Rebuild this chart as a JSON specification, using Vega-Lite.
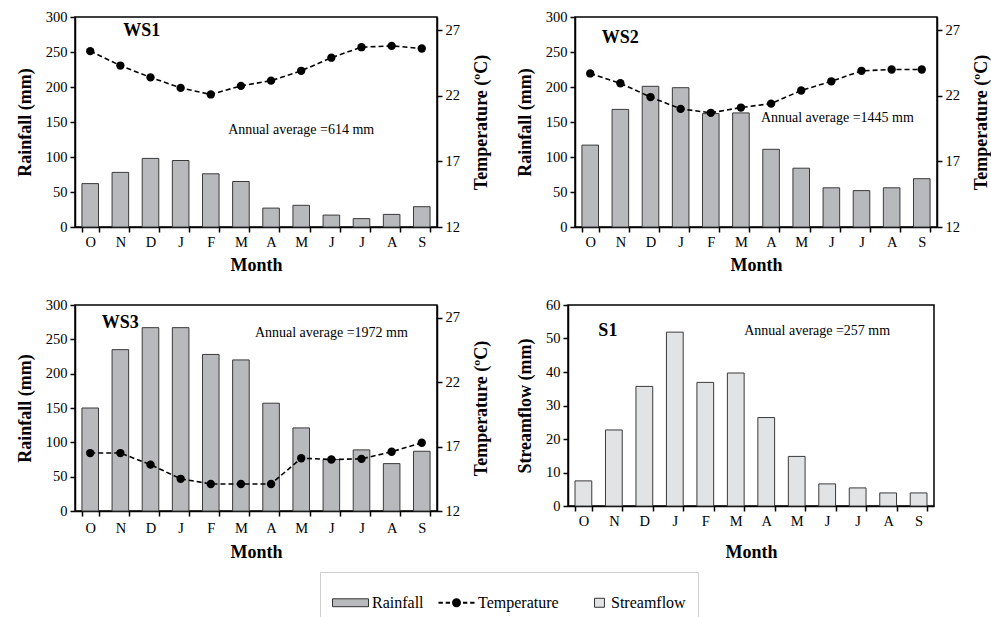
{
  "$schema": "https://vega.github.io/schema/vega-lite/v6.json",
  "background": "white",
  "padding": {"left": 15, "top": 8, "right": 0, "bottom": 0},
  "datasets": {
    "ws1": [
      {"month": "Oct", "rain": 62, "temp": 25.4, "series": "Rainfall"},
      {"month": "Nov", "rain": 78, "temp": 24.3, "series": "Rainfall"},
      {"month": "Dec", "rain": 98, "temp": 23.4, "series": "Rainfall"},
      {"month": "Jan", "rain": 95, "temp": 22.6, "series": "Rainfall"},
      {"month": "Feb", "rain": 76, "temp": 22.1, "series": "Rainfall"},
      {"month": "Mar", "rain": 65, "temp": 22.75, "series": "Rainfall"},
      {"month": "Apr", "rain": 27, "temp": 23.15, "series": "Rainfall"},
      {"month": "May", "rain": 31, "temp": 23.9, "series": "Rainfall"},
      {"month": "Jun", "rain": 17, "temp": 24.9, "series": "Rainfall"},
      {"month": "Jul", "rain": 12, "temp": 25.7, "series": "Rainfall"},
      {"month": "Aug", "rain": 18, "temp": 25.8, "series": "Rainfall"},
      {"month": "Sep", "rain": 29, "temp": 25.6, "series": "Rainfall"}
    ],
    "ws2": [
      {"month": "Oct", "rain": 117, "temp": 23.7, "series": "Rainfall"},
      {"month": "Nov", "rain": 168, "temp": 22.95, "series": "Rainfall"},
      {"month": "Dec", "rain": 201, "temp": 21.9, "series": "Rainfall"},
      {"month": "Jan", "rain": 199, "temp": 21.0, "series": "Rainfall"},
      {"month": "Feb", "rain": 162, "temp": 20.7, "series": "Rainfall"},
      {"month": "Mar", "rain": 163, "temp": 21.1, "series": "Rainfall"},
      {"month": "Apr", "rain": 111, "temp": 21.4, "series": "Rainfall"},
      {"month": "May", "rain": 84, "temp": 22.4, "series": "Rainfall"},
      {"month": "Jun", "rain": 56, "temp": 23.1, "series": "Rainfall"},
      {"month": "Jul", "rain": 52, "temp": 23.9, "series": "Rainfall"},
      {"month": "Aug", "rain": 56, "temp": 24.0, "series": "Rainfall"},
      {"month": "Sep", "rain": 69, "temp": 24.0, "series": "Rainfall"}
    ],
    "ws3": [
      {"month": "Oct", "rain": 150, "temp": 16.5, "series": "Rainfall"},
      {"month": "Nov", "rain": 235, "temp": 16.5, "series": "Rainfall"},
      {"month": "Dec", "rain": 267, "temp": 15.6, "series": "Rainfall"},
      {"month": "Jan", "rain": 267, "temp": 14.5, "series": "Rainfall"},
      {"month": "Feb", "rain": 228, "temp": 14.1, "series": "Rainfall"},
      {"month": "Mar", "rain": 220, "temp": 14.1, "series": "Rainfall"},
      {"month": "Apr", "rain": 157, "temp": 14.1, "series": "Rainfall"},
      {"month": "May", "rain": 121, "temp": 16.1, "series": "Rainfall"},
      {"month": "Jun", "rain": 75, "temp": 16.0, "series": "Rainfall"},
      {"month": "Jul", "rain": 89, "temp": 16.05, "series": "Rainfall"},
      {"month": "Aug", "rain": 69, "temp": 16.6, "series": "Rainfall"},
      {"month": "Sep", "rain": 87, "temp": 17.3, "series": "Rainfall"}
    ],
    "s1": [
      {"month": "Oct", "flow": 7.5, "series": "Streamflow"},
      {"month": "Nov", "flow": 22.7, "series": "Streamflow"},
      {"month": "Dec", "flow": 35.7, "series": "Streamflow"},
      {"month": "Jan", "flow": 51.9, "series": "Streamflow"},
      {"month": "Feb", "flow": 36.9, "series": "Streamflow"},
      {"month": "Mar", "flow": 39.7, "series": "Streamflow"},
      {"month": "Apr", "flow": 26.4, "series": "Streamflow"},
      {"month": "May", "flow": 14.8, "series": "Streamflow"},
      {"month": "Jun", "flow": 6.6, "series": "Streamflow"},
      {"month": "Jul", "flow": 5.4, "series": "Streamflow"},
      {"month": "Aug", "flow": 3.9, "series": "Streamflow"},
      {"month": "Sep", "flow": 3.9, "series": "Streamflow"}
    ]
  },
  "config": {
    "font": "Liberation Serif",
    "view": {"stroke": "black", "strokeWidth": 1.5},
    "axis": {
      "domainColor": "black", "domainWidth": 1.5,
      "tickColor": "black", "tickWidth": 1.5, "tickSize": 5,
      "labelFont": "Liberation Serif", "labelFontSize": 14.5, "labelColor": "black", "labelPadding": 3,
      "titleFont": "Liberation Serif", "titleFontSize": 18, "titleFontWeight": "bold", "titleColor": "black", "titlePadding": 11,
      "grid": false
    },
    "axisX": {"tickBand": "extent", "labelAngle": 0, "titlePadding": 8},
    "legend": {"labelFont": "Liberation Serif", "labelFontSize": 16, "labelColor": "black"},
    "text": {"font": "Liberation Serif", "color": "black"}
  },
  "spacing": 20,
  "vconcat": [
    {
      "spacing": 23,
      "hconcat": [
        {
          "width": 362, "height": 210,
          "data": {"name": "ws1"},
          "layer": [
            {
              "layer": [
                {
                  "mark": {"type": "bar", "stroke": "#3a3a3a", "strokeWidth": 1},
                  "encoding": {
                    "x": {"field": "month", "type": "nominal", "sort": null,
                          "scale": {"domain": ["Oct","Nov","Dec","Jan","Feb","Mar","Apr","May","Jun","Jul","Aug","Sep"], "paddingInner": 0.45, "paddingOuter": 0.23},
                          "axis": {"title": "Month", "labelExpr": "slice(datum.label, 0, 1)"}},
                    "y": {"field": "rain", "type": "quantitative", "scale": {"domain": [0, 300]},
                          "axis": {"title": "Rainfall (mm)", "values": [0, 50, 100, 150, 200, 250, 300]}},
                    "color": {"field": "series", "type": "nominal",
                      "scale": {"domain": ["Rainfall", "Temperature", "Streamflow"], "range": ["#b8b9bc", "#000000", "#e2e3e5"]},
                      "legend": {
                        "title": null, "orient": "none", "direction": "horizontal",
                        "legendX": 245, "legendY": 555,
                        "strokeColor": "#cfcfcf", "padding": 12, "symbolSize": 1296, "columnPadding": 12,
                        "labelFont": "Liberation Serif", "labelFontSize": 16, "labelColor": "black", "labelOffset": 3,
                        "encoding": {"symbols": {
                          "shape": {"value": {"expr": "datum.value === 'Rainfall' ? 'M-1,-0.22H1V0.22H-1Z' : datum.value === 'Temperature' ? 'M-1,-0.06H-0.76V0.06H-1Z M-0.6,-0.06H-0.36V0.06H-0.6Z M0.36,-0.06H0.6V0.06H0.36Z M0.76,-0.06H1V0.06H0.76Z M-0.25,0A0.25,0.25 0 1,0 0.25,0A0.25,0.25 0 1,0 -0.25,0Z' : 'M0.28,-0.25H0.83V0.25H0.28Z'"}},
                          "fill": {"value": {"expr": "datum.value === 'Rainfall' ? '#b8b9bc' : datum.value === 'Temperature' ? '#000000' : '#e2e3e5'"}},
                          "stroke": {"value": {"expr": "datum.value === 'Temperature' ? 'transparent' : '#333333'"}},
                          "strokeWidth": {"value": 1},
                          "opacity": {"value": 1},
                          "fillOpacity": {"value": 1}
                        }}
                      }}
                  }
                },
                {
                  "data": {"values": [{"label": "WS1"}]},
                  "mark": {"type": "text", "fontSize": 18, "fontWeight": "bold", "align": "left", "baseline": "middle", "dx": 3},
                  "encoding": {"x": {"datum": "Nov"}, "y": {"datum": 280, "axis": {"title": "Rainfall (mm)", "values": [0, 50, 100, 150, 200, 250, 300]}}, "text": {"field": "label"}}
                },
                {
                  "data": {"values": [{"label": "Annual average =614 mm"}]},
                  "mark": {"type": "text", "fontSize": 14, "align": "center", "baseline": "middle"},
                  "encoding": {"x": {"datum": "May"}, "y": {"datum": 139, "axis": {"title": "Rainfall (mm)", "values": [0, 50, 100, 150, 200, 250, 300]}}, "text": {"field": "label"}}
                }
              ]
            },
            {
              "layer": [
                {
                  "mark": {"type": "line", "color": "black", "strokeDash": [5, 3], "strokeWidth": 1.6},
                  "encoding": {
                    "x": {"field": "month", "type": "nominal", "sort": null},
                    "y": {"field": "temp", "type": "quantitative", "scale": {"domain": [12, 27]},
                          "axis": {"orient": "right", "title": "Temperature (ºC)", "values": [12, 17, 22, 27], "titleAngle": 270, "titleBaseline": "top", "titlePadding": 13}}
                  }
                },
                {
                  "mark": {"type": "point", "filled": true, "color": "black", "size": 70, "opacity": 1},
                  "encoding": {
                    "x": {"field": "month", "type": "nominal", "sort": null},
                    "y": {"field": "temp", "type": "quantitative"}
                  }
                }
              ]
            }
          ],
          "resolve": {"scale": {"y": "independent"}}
        },
        {
          "width": 362, "height": 210,
          "data": {"name": "ws2"},
          "layer": [
            {
              "layer": [
                {
                  "mark": {"type": "bar", "stroke": "#3a3a3a", "strokeWidth": 1},
                  "encoding": {
                    "x": {"field": "month", "type": "nominal", "sort": null,
                          "scale": {"domain": ["Oct","Nov","Dec","Jan","Feb","Mar","Apr","May","Jun","Jul","Aug","Sep"], "paddingInner": 0.45, "paddingOuter": 0.23},
                          "axis": {"title": "Month", "labelExpr": "slice(datum.label, 0, 1)"}},
                    "y": {"field": "rain", "type": "quantitative", "scale": {"domain": [0, 300]},
                          "axis": {"title": "Rainfall (mm)", "values": [0, 50, 100, 150, 200, 250, 300]}},
                    "color": {"field": "series", "type": "nominal"}
                  }
                },
                {
                  "data": {"values": [{"label": "WS2"}]},
                  "mark": {"type": "text", "fontSize": 18, "fontWeight": "bold", "align": "center", "baseline": "middle"},
                  "encoding": {"x": {"datum": "Nov"}, "y": {"datum": 270, "axis": {"title": "Rainfall (mm)", "values": [0, 50, 100, 150, 200, 250, 300]}}, "text": {"field": "label"}}
                },
                {
                  "data": {"values": [{"label": "Annual average =1445 mm"}]},
                  "mark": {"type": "text", "fontSize": 14, "align": "center", "baseline": "middle", "dx": 6},
                  "encoding": {"x": {"datum": "Jun"}, "y": {"datum": 156, "axis": {"title": "Rainfall (mm)", "values": [0, 50, 100, 150, 200, 250, 300]}}, "text": {"field": "label"}}
                }
              ]
            },
            {
              "layer": [
                {
                  "mark": {"type": "line", "color": "black", "strokeDash": [5, 3], "strokeWidth": 1.6},
                  "encoding": {
                    "x": {"field": "month", "type": "nominal", "sort": null},
                    "y": {"field": "temp", "type": "quantitative", "scale": {"domain": [12, 27]},
                          "axis": {"orient": "right", "title": "Temperature (ºC)", "values": [12, 17, 22, 27], "titleAngle": 270, "titleBaseline": "top", "titlePadding": 13}}
                  }
                },
                {
                  "mark": {"type": "point", "filled": true, "color": "black", "size": 70, "opacity": 1},
                  "encoding": {
                    "x": {"field": "month", "type": "nominal", "sort": null},
                    "y": {"field": "temp", "type": "quantitative"}
                  }
                }
              ]
            }
          ],
          "resolve": {"scale": {"y": "independent"}}
        }
      ]
    },
    {
      "spacing": 23,
      "hconcat": [
        {
          "width": 362, "height": 206,
          "data": {"name": "ws3"},
          "layer": [
            {
              "layer": [
                {
                  "mark": {"type": "bar", "stroke": "#3a3a3a", "strokeWidth": 1},
                  "encoding": {
                    "x": {"field": "month", "type": "nominal", "sort": null,
                          "scale": {"domain": ["Oct","Nov","Dec","Jan","Feb","Mar","Apr","May","Jun","Jul","Aug","Sep"], "paddingInner": 0.45, "paddingOuter": 0.23},
                          "axis": {"title": "Month", "labelExpr": "slice(datum.label, 0, 1)", "labelPadding": 5, "titlePadding": 9}},
                    "y": {"field": "rain", "type": "quantitative", "scale": {"domain": [0, 300]},
                          "axis": {"title": "Rainfall (mm)", "values": [0, 50, 100, 150, 200, 250, 300]}},
                    "color": {"field": "series", "type": "nominal"}
                  }
                },
                {
                  "data": {"values": [{"label": "WS3"}]},
                  "mark": {"type": "text", "fontSize": 18, "fontWeight": "bold", "align": "center", "baseline": "middle"},
                  "encoding": {"x": {"datum": "Nov"}, "y": {"datum": 274, "axis": {"title": "Rainfall (mm)", "values": [0, 50, 100, 150, 200, 250, 300]}}, "text": {"field": "label"}}
                },
                {
                  "data": {"values": [{"label": "Annual average =1972 mm"}]},
                  "mark": {"type": "text", "fontSize": 14, "align": "center", "baseline": "middle"},
                  "encoding": {"x": {"datum": "Jun"}, "y": {"datum": 259, "axis": {"title": "Rainfall (mm)", "values": [0, 50, 100, 150, 200, 250, 300]}}, "text": {"field": "label"}}
                }
              ]
            },
            {
              "layer": [
                {
                  "mark": {"type": "line", "color": "black", "strokeDash": [5, 3], "strokeWidth": 1.6},
                  "encoding": {
                    "x": {"field": "month", "type": "nominal", "sort": null},
                    "y": {"field": "temp", "type": "quantitative", "scale": {"domain": [12, 27]},
                          "axis": {"orient": "right", "title": "Temperature (ºC)", "values": [12, 17, 22, 27], "titleAngle": 270, "titleBaseline": "top", "titlePadding": 13}}
                  }
                },
                {
                  "mark": {"type": "point", "filled": true, "color": "black", "size": 70, "opacity": 1},
                  "encoding": {
                    "x": {"field": "month", "type": "nominal", "sort": null},
                    "y": {"field": "temp", "type": "quantitative"}
                  }
                }
              ]
            }
          ],
          "resolve": {"scale": {"y": "independent"}}
        },
        {
          "width": 366, "height": 201,
          "data": {"name": "s1"},
          "layer": [
            {
              "mark": {"type": "bar", "stroke": "#3a3a3a", "strokeWidth": 1},
              "encoding": {
                "x": {"field": "month", "type": "nominal", "sort": null,
                      "scale": {"domain": ["Oct","Nov","Dec","Jan","Feb","Mar","Apr","May","Jun","Jul","Aug","Sep"], "paddingInner": 0.45, "paddingOuter": 0.23},
                      "axis": {"title": "Month", "labelExpr": "slice(datum.label, 0, 1)", "titlePadding": 16}},
                "y": {"field": "flow", "type": "quantitative", "scale": {"domain": [0, 60]},
                      "axis": {"title": "Streamflow (mm)", "values": [0, 10, 20, 30, 40, 50, 60]}},
                "color": {"field": "series", "type": "nominal"}
              }
            },
            {
              "data": {"values": [{"label": "S1"}]},
              "mark": {"type": "text", "fontSize": 18, "fontWeight": "bold", "align": "center", "baseline": "middle", "dx": -6},
              "encoding": {"x": {"datum": "Nov"}, "y": {"datum": 52.3, "axis": {"title": "Streamflow (mm)", "values": [0, 10, 20, 30, 40, 50, 60]}}, "text": {"field": "label"}}
            },
            {
              "data": {"values": [{"label": "Annual average =257 mm"}]},
              "mark": {"type": "text", "fontSize": 14, "align": "center", "baseline": "middle", "dx": -10},
              "encoding": {"x": {"datum": "Jun"}, "y": {"datum": 52.3, "axis": {"title": "Streamflow (mm)", "values": [0, 10, 20, 30, 40, 50, 60]}}, "text": {"field": "label"}}
            }
          ]
        }
      ]
    }
  ]
}
